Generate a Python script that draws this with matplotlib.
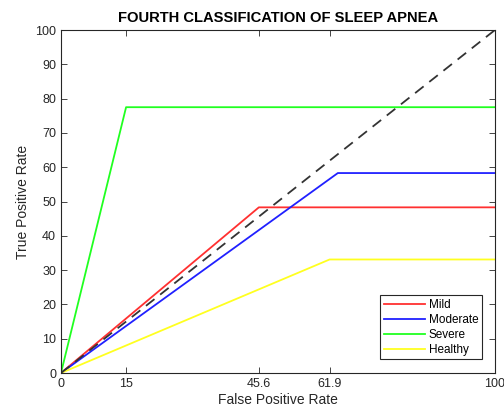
import matplotlib
matplotlib.use('Agg')
import matplotlib.pyplot as plt

plt.rcParams['font.family'] = ['Liberation Sans', 'DejaVu Sans']

# ROC points (false positive rate, true positive rate)
mild_x = [0, 45.6, 100]
mild_y = [0, 48.3, 48.3]
moderate_x = [0, 63.8, 100]
moderate_y = [0, 58.3, 58.3]
severe_x = [0, 15, 100]
severe_y = [0, 77.5, 77.5]
healthy_x = [0, 61.9, 100]
healthy_y = [0, 33.1, 33.1]
xtick_vals = [0, 15, 45.6, 61.9, 100]
ytick_vals = list(range(0, 101, 10))

fig = plt.figure(figsize=(5.04, 4.17), dpi=100)
ax = fig.add_axes([0.121, 0.1055, 0.861, 0.8225])

ax.plot(mild_x, mild_y, color='#ff3030', lw=1.3, label='Mild')
ax.plot(moderate_x, moderate_y, color='#2020ff', lw=1.3, label='Moderate')
ax.plot(severe_x, severe_y, color='#20ff20', lw=1.3, label='Severe')
ax.plot(healthy_x, healthy_y, color='#ffff20', lw=1.3, label='Healthy')
ax.plot([0, 100], [0, 100], color='#333333', lw=1.3, ls=(0, (6, 4)))

ax.set_xlim(0, 100)
ax.set_ylim(0, 100)
ax.set_xticks(xtick_vals)
ax.set_xticklabels(['0', '15', '45.6', '61.9', '100'])
ax.set_yticks(ytick_vals)
ax.tick_params(direction='in', top=True, right=True, labelsize=9, colors='#262626', length=4, width=0.6)
for s in ax.spines.values():
    s.set_linewidth(0.8)
    s.set_color('#262626')

ax.set_xlabel('False Positive Rate', fontsize=10, color='#262626', labelpad=2)
ax.set_ylabel('True Positive Rate', fontsize=10, color='#262626', labelpad=4)
ax.set_title('FOURTH CLASSIFICATION OF SLEEP APNEA', fontsize=10.6, fontweight='bold', pad=6)

leg = ax.legend(loc='lower right', bbox_to_anchor=(0.97, 0.04), fontsize=8.5, fancybox=False,
                edgecolor='#262626', framealpha=1, handlelength=3.5, handletextpad=0.3,
                borderpad=0.3, labelspacing=0.25, borderaxespad=0)
leg.get_frame().set_linewidth(0.8)

fig.savefig('out.png', dpi=100)
